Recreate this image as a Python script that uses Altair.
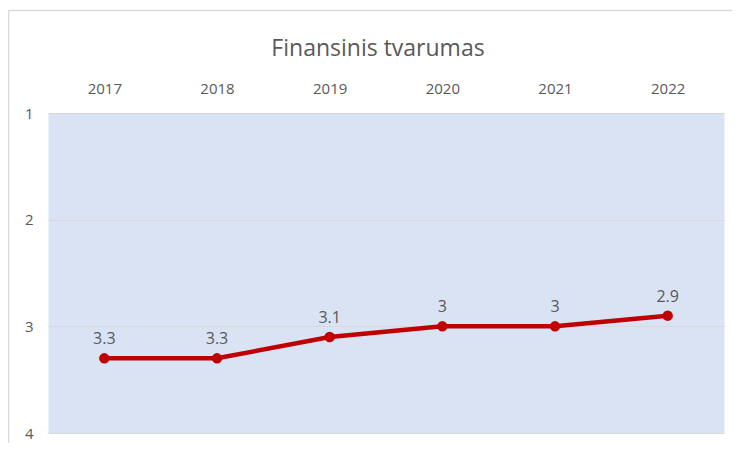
import altair as alt
import pandas as pd

years = ["2017", "2018", "2019", "2020", "2021", "2022"]
values = [3.3, 3.3, 3.1, 3.0, 3.0, 2.9]
labels = ["3.3", "3.3", "3.1", "3", "3", "2.9"]
y_ticks = [1, 2, 3, 4]

df = pd.DataFrame({"year": years, "value": values, "label": labels})

FONT = "Open Sans"
GREY = "#595959"
RED = "#c00000"
GRID = "#d9d9d9"

x_enc = alt.X(
    "year:O",
    sort=years,
    title=None,
    axis=alt.Axis(
        orient="top", labelAngle=0, ticks=False, domain=False, grid=False,
        labelFontSize=15, labelColor=GREY, labelFont=FONT, labelPadding=17,
    ),
)
y_enc = alt.Y(
    "value:Q",
    title=None,
    scale=alt.Scale(domain=[1, 4], reverse=True, nice=False, zero=False),
    axis=alt.Axis(
        values=y_ticks, format="d", ticks=False, domain=False, grid=True,
        gridColor=GRID, gridWidth=1, labelFontSize=15, labelColor=GREY,
        labelFont=FONT, labelPadding=15,
    ),
)

base = alt.Chart(df).encode(x=x_enc, y=y_enc)
line = base.mark_line(color=RED, strokeWidth=4.5)
points = base.mark_circle(size=110, color=RED, opacity=1)
text = base.mark_text(dy=-19, fontSize=16, color=GREY, font=FONT).encode(text="label:N")

frame_df = pd.DataFrame({"a": [0]})
frame_v = alt.Chart(frame_df).mark_rule(color=GRID, strokeWidth=1.5, clip=False).encode(
    x=alt.value(-39.5), y=alt.value(-103), y2=alt.value(330)
)
frame_h = alt.Chart(frame_df).mark_rule(color=GRID, strokeWidth=1.5, clip=False).encode(
    x=alt.value(-40), x2=alt.value(690), y=alt.value(-102.5)
)

chart = alt.layer(line, points, text, frame_v, frame_h).properties(
    width=676,
    height=320,
    autosize="none",
    padding={"left": 40, "top": 105, "right": 8, "bottom": 10},
    background="white",
    title=alt.Title(
        "Finansinis tvarumas", fontSize=23, font=FONT, color=GREY,
        fontWeight="normal", offset=-52, dx=-8,
    ),
).configure_view(fill="#dae3f3", stroke="transparent")

chart.save("out.html", embed_options={"renderer": "svg", "actions": False})
